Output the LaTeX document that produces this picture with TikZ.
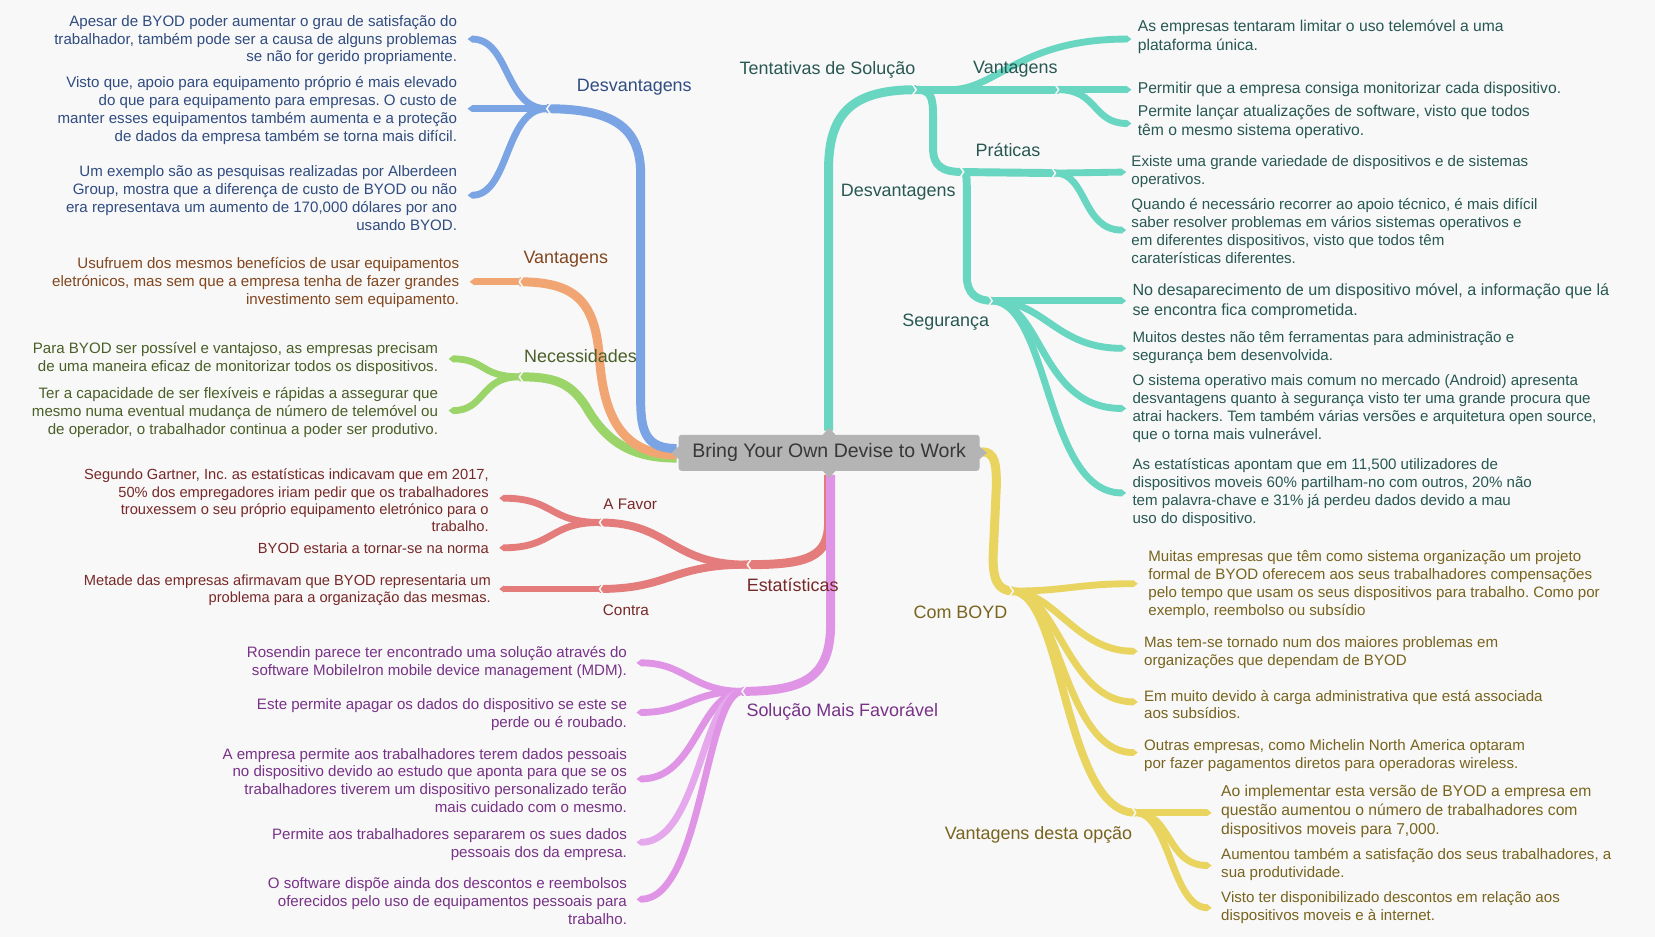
\documentclass[tikz,border=0pt]{standalone}
\usepackage{fontspec}
\setmainfont{Liberation Sans}
\usetikzlibrary{arrows.meta}
\definecolor{bg}{RGB}{248,248,248}
\definecolor{boxgray}{RGB}{180,180,180}
\definecolor{boxtext}{RGB}{55,55,55}
\definecolor{blueC}{RGB}{122,164,228}
\definecolor{orangeC}{RGB}{240,165,115}
\definecolor{greenC}{RGB}{155,212,105}
\definecolor{redC}{RGB}{229,124,124}
\definecolor{purpleC}{RGB}{223,148,230}
\definecolor{purpleL}{RGB}{230,168,236}
\definecolor{tealC}{RGB}{104,214,192}
\definecolor{yellowC}{RGB}{232,212,95}
\definecolor{blueT}{RGB}{48,76,128}
\definecolor{orangeT}{RGB}{130,70,30}
\definecolor{greenT}{RGB}{75,95,40}
\definecolor{redT}{RGB}{120,40,40}
\definecolor{purpleT}{RGB}{120,50,135}
\definecolor{tealT}{RGB}{40,88,82}
\definecolor{yellowT}{RGB}{120,100,30}
\begin{document}
\frenchspacing
\begin{tikzpicture}[x=1pt,y=-1pt,
  every node/.style={inner sep=0pt,outer sep=0pt},
  leaftxt/.style={font=\fontsize{14.3}{17}\selectfont},
  bigleaf/.style={font=\fontsize{14.85}{18}\selectfont},
  hugeleaf/.style={font=\fontsize{15.3}{19}\selectfont},
  smallleaf/.style={font=\fontsize{13.9}{16.2}\selectfont},
  lab/.style={font=\fontsize{17}{20}\selectfont},
  smalllab/.style={font=\fontsize{14.5}{17}\selectfont},
  trunkband/.style={line width=8.5pt},
  midband/.style={line width=7.5pt},
  leafband/.style={line width=6.5pt,-{Triangle[width=6.5pt,length=4.5pt]}},
  notch/.style={draw=bg,line width=1.4pt}
]
\fill[bg] (0,0) rectangle (1568,888);

% ---------- coordinates ----------
\coordinate (rB) at (641,425);
\coordinate (hB) at (518,103);
\coordinate (eB1) at (443,37);
\coordinate (eB2) at (443,103);
\coordinate (eB3) at (443,185);
\coordinate (rO) at (641,431);
\coordinate (hO) at (492,267);
\coordinate (eO) at (445,267);
\coordinate (rG) at (641,434);
\coordinate (hG) at (492,357);
\coordinate (eG1) at (425,340);
\coordinate (eG2) at (425,389);
\coordinate (rD) at (785,450);
\coordinate (hR) at (708,535);
\coordinate (hAF) at (568,495);
\coordinate (hCo) at (568,558);
\coordinate (eR1) at (473,472);
\coordinate (eR2) at (473,519);
\coordinate (eR3) at (473,558);
\coordinate (rP) at (787,450);
\coordinate (hP) at (703,655);
\coordinate (eP1) at (603,628);
\coordinate (eP2) at (603,675);
\coordinate (eP3) at (603,738);
\coordinate (eP4) at (603,798);
\coordinate (eP5) at (603,852);
\coordinate (rT) at (785,408);
\coordinate (hT) at (868,85);
\coordinate (tvS) at (900,85);
\coordinate (hTV) at (1003,85);
\coordinate (hTD) at (913,163);
\coordinate (hTP) at (1000,164);
\coordinate (hTS) at (940,285);
\coordinate (eTV1) at (1072,37);
\coordinate (eTV2) at (1072,85);
\coordinate (eTV3) at (1072,117);
\coordinate (eTP1) at (1067,163);
\coordinate (eTP2) at (1067,218);
\coordinate (eTS1) at (1067,285);
\coordinate (eTS2) at (1067,330);
\coordinate (eTS3) at (1067,387);
\coordinate (eTS4) at (1067,467);
\coordinate (rY) at (930,428);
\coordinate (hY) at (960,560);
\coordinate (hYV) at (1076,770);
\coordinate (eY1) at (1078,553);
\coordinate (eY2) at (1078,617);
\coordinate (eY3) at (1078,665);
\coordinate (eY4) at (1078,713);
\coordinate (eYV1) at (1148,770);
\coordinate (eYV2) at (1148,820);
\coordinate (eYV3) at (1148,860);

% ---------- green ----------
\draw[greenC,trunkband] (rG) .. controls (600,434) and (575,420) .. (555,385) .. controls (540,362) and (525,357) .. (hG);
\draw[greenC,leafband] (hG) .. controls (455,357) and (460,340) .. (eG1);
\draw[greenC,leafband] (hG) .. controls (455,357) and (460,389) .. (eG2);
% ---------- orange ----------
\draw[orangeC,trunkband] (rO) .. controls (590,431) and (572,395) .. (568,340) .. controls (564,285) and (545,267) .. (hO);
\draw[orangeC,leafband] (hO) -- (eO);
% ---------- blue ----------
\draw[blueC,trunkband] (rB) .. controls (613,425) and (607,410) .. (607,380) -- (607,165) .. controls (607,120) and (580,103) .. (hB);
\draw[blueC,leafband] (hB) .. controls (478,103) and (483,37) .. (eB1);
\draw[blueC,leafband] (hB) -- (eB2);
\draw[blueC,leafband] (hB) .. controls (478,103) and (483,185) .. (eB3);
% ---------- red ----------
\draw[redC,trunkband] (rD) -- (785,495) .. controls (785,528) and (765,535) .. (hR);
\draw[redC,midband] (hR) .. controls (635,535) and (635,495) .. (hAF);
\draw[redC,midband] (hR) .. controls (635,535) and (635,558) .. (hCo);
\draw[redC,leafband] (hAF) .. controls (520,495) and (525,472) .. (eR1);
\draw[redC,leafband] (hAF) .. controls (520,495) and (525,519) .. (eR2);
\draw[redC,leafband] (hCo) -- (eR3);
% ---------- purple ----------
\draw[purpleC,trunkband] (rP) -- (787,590) .. controls (787,640) and (765,655) .. (hP);
\draw[purpleC,leafband] (hP) .. controls (655,655) and (650,628) .. (eP1);
\draw[purpleC,leafband] (hP) .. controls (655,655) and (650,675) .. (eP2);
\draw[purpleC,leafband] (hP) .. controls (662,658) and (660,738) .. (eP3);
\draw[purpleL,leafband] (hP) .. controls (665,658) and (662,798) .. (eP4);
\draw[purpleC,leafband] (hP) .. controls (668,658) and (665,852) .. (eP5);
% ---------- teal ----------
\draw[tealC,trunkband] (rT) -- (785,160) .. controls (785,105) and (810,85) .. (hT);
\draw[tealC,midband] (hT) -- (hTV);
\draw[tealC,leafband] (tvS) .. controls (945,85) and (965,37) .. (eTV1);
\draw[tealC,leafband] (hTV) -- (eTV2);
\draw[tealC,leafband] (hTV) .. controls (1040,85) and (1035,117) .. (eTV3);
\draw[tealC,midband] (hT) .. controls (882,85) and (884,92) .. (884,110) -- (884,140) .. controls (884,158) and (893,163) .. (hTD);
\draw[tealC,midband] (hTD) -- (hTP);
\draw[tealC,leafband] (hTP) -- (eTP1);
\draw[tealC,leafband] (hTP) .. controls (1030,164) and (1025,218) .. (eTP2);
\draw[tealC,midband] (hTD) .. controls (916,163) and (916,170) .. (916,185) -- (916,262) .. controls (916,278) and (925,285) .. (hTS);
\draw[tealC,leafband] (hTS) -- (eTS1);
\draw[tealC,leafband] (hTS) .. controls (990,285) and (1000,330) .. (eTS2);
\draw[tealC,leafband] (hTS) .. controls (988,286) and (985,387) .. (eTS3);
\draw[tealC,leafband] (hTS) .. controls (995,288) and (990,467) .. (eTS4);
% ---------- yellow ----------
\draw[yellowC,trunkband] (rY) .. controls (943,428) and (944,440) .. (944,460) -- (941,525) .. controls (940,550) and (946,560) .. (hY);
\draw[yellowC,leafband] (hY) .. controls (1010,560) and (1020,553) .. (eY1);
\draw[yellowC,leafband] (hY) .. controls (1000,562) and (1020,617) .. (eY2);
\draw[yellowC,leafband] (hY) .. controls (1002,563) and (1012,665) .. (eY3);
\draw[yellowC,leafband] (hY) .. controls (1004,563) and (1008,713) .. (eY4);
\draw[yellowC,midband] (hY) .. controls (1008,563) and (1008,770) .. (hYV);
\draw[yellowC,leafband] (hYV) -- (eYV1);
\draw[yellowC,leafband] (hYV) .. controls (1110,770) and (1105,820) .. (eYV2);
\draw[yellowC,leafband] (hYV) .. controls (1108,770) and (1110,860) .. (eYV3);

% ---------- hub notches ----------
\foreach \h in {hB,hO,hG,hR,hAF,hCo,hP}{
  \draw[notch] ([shift={(3.5,-5)}]\h) -- (\h) -- ([shift={(3.5,5)}]\h);
}
\foreach \h in {hT,hTV,hTD,hTP,hTS,hY,hYV}{
  \draw[notch] ([shift={(-3.5,-5)}]\h) -- (\h) -- ([shift={(-3.5,5)}]\h);
}

% ---------- root ----------
\node[fill=boxgray,rounded corners=2.5pt,minimum width=285pt,minimum height=34pt,
      text=boxtext,font=\fontsize{18.5}{21}\selectfont] (root) at (785.5,429) {Bring Your Own Devise to Work};
\fill[boxgray] ([shift={(-6.5,0.5)}]root.north) -- ([shift={(0,-7)}]root.north) -- ([shift={(6.5,0.5)}]root.north) -- cycle;
\fill[boxgray] ([shift={(-6.5,-0.5)}]root.south) -- ([shift={(0,7)}]root.south) -- ([shift={(6.5,-0.5)}]root.south) -- cycle;
\fill[boxgray] ([shift={(0.5,-6.5)}]root.west) -- ([shift={(-7,0)}]root.west) -- ([shift={(0.5,6.5)}]root.west) -- cycle;
\fill[boxgray] ([shift={(-0.5,-6.5)}]root.east) -- ([shift={(7,0)}]root.east) -- ([shift={(-0.5,6.5)}]root.east) -- cycle;

% ---------- labels ----------
\node[lab,text=blueT] (lB) at (601,83) {Desvantagens};
\node[lab,text=orangeT] (lO) at (536,246) {Vantagens};
\node[lab,text=greenT] (lG) at (550,337) {Necessidades};
\node[lab,text=redT] (lR) at (751,554) {Estatísticas};
\node[smalllab,text=redT] (lAF) at (597,478) {A Favor};
\node[smalllab,text=redT] (lCo) at (593,578) {Contra};
\node[lab,text=purpleT] (lP) at (798,674) {Solução Mais Favorável};
\node[lab,text=tealT] (lT) at (784,66) {Tentativas de Solução};
\node[lab,text=tealT] (lTV) at (962,66) {Vantagens};
\node[lab,text=tealT] (lTD) at (851,182) {Desvantagens};
\node[lab,text=tealT] (lTP) at (955,142) {Práticas};
\node[lab,text=tealT] (lTS) at (896,305) {Segurança};
\node[lab,text=yellowT] (lY) at (910,580) {Com BOYD};
\node[lab,text=yellowT] (lYV) at (984,791) {Vantagens desta opção};

% ---------- leaf texts: left side ----------
\begin{scope}[every node/.append style={leaftxt,anchor=east,align=right}]
\node[text=blueT] (tB1) at (433,38) {Apesar de BYOD poder aumentar o grau de satisfação do\\trabalhador, também pode ser a causa de alguns problemas\\se não for gerido propriamente.};
\node[text=blueT] (tB2) at (433,105) {Visto que, apoio para equipamento próprio é mais elevado\\do que para equipamento para empresas. O custo de\\manter esses equipamentos também aumenta e a proteção\\de dados da empresa também se torna mais difícil.};
\node[text=blueT] (tB3) at (433,187.5) {Um exemplo são as pesquisas realizadas por Alberdeen\\Group, mostra que a diferença de custo de BYOD ou não\\era representava um aumento de 170,000 dólares por ano\\usando BYOD.};
\node[text=orangeT] (tO) at (435,268) {Usufruem dos mesmos benefícios de usar equipamentos\\eletrónicos, mas sem que a empresa tenha de fazer grandes\\investimento sem equipamento.};
\node[text=greenT] (tG1) at (415,339.5) {Para BYOD ser possível e vantajoso, as empresas precisam\\de uma maneira eficaz de monitorizar todos os dispositivos.};
\node[text=greenT] (tG2) at (415,391) {Ter a capacidade de ser flexíveis e rápidas a assegurar que\\mesmo numa eventual mudança de número de telemóvel ou\\de operador, o trabalhador continua a poder ser produtivo.};
\node[smallleaf,text=redT] (tR1) at (463,474) {Segundo Gartner, Inc. as estatísticas indicavam que em 2017,\\50\% dos empregadores iriam pedir que os trabalhadores\\trouxessem o seu próprio equipamento eletrónico para o\\trabalho.};
\node[smallleaf,text=redT] (tR2) at (463,519.5) {BYOD estaria a tornar-se na norma};
\node[smallleaf,text=redT] (tR3) at (465,559.5) {Metade das empresas afirmavam que BYOD representaria um\\problema para a organização das mesmas.};
\node[text=purpleT] (tP1) at (594,628) {Rosendin parece ter encontrado uma solução através do\\software MobileIron mobile device management (MDM).};
\node[text=purpleT] (tP2) at (594,677) {Este permite apagar os dados do dispositivo se este se\\perde ou é roubado.};
\node[text=purpleT] (tP3) at (594,739.5) {A empresa permite aos trabalhadores terem dados pessoais\\no dispositivo devido ao estudo que aponta para que se os\\trabalhadores tiverem um dispositivo personalizado terão\\mais cuidado com o mesmo.};
\node[text=purpleT] (tP4) at (594,800) {Permite aos trabalhadores separarem os sues dados\\pessoais dos da empresa.};
\node[text=purpleT] (tP5) at (594,853.5) {O software dispõe ainda dos descontos e reembolsos\\oferecidos pelo uso de equipamentos pessoais para\\trabalho.};
\end{scope}

% ---------- leaf texts: right side ----------
\begin{scope}[every node/.append style={leaftxt,anchor=west,align=left}]
\node[bigleaf,text=tealT] (tTV1) at (1078,35) {As empresas tentaram limitar o uso telemóvel a uma\\plataforma única.};
\node[bigleaf,text=tealT] (tTV2) at (1078,85) {Permitir que a empresa consiga monitorizar cada dispositivo.};
\node[bigleaf,text=tealT] (tTV3) at (1078,115.5) {Permite lançar atualizações de software, visto que todos\\têm o mesmo sistema operativo.};
\node[text=tealT] (tTP1) at (1072,162.5) {Existe uma grande variedade de dispositivos e de sistemas\\operativos.};
\node[text=tealT] (tTP2) at (1072,218.5) {Quando é necessário recorrer ao apoio técnico, é mais difícil\\saber resolver problemas em vários sistemas operativos e\\em diferentes dispositivos, visto que todos têm\\caraterísticas diferentes.};
\node[hugeleaf,text=tealT] (tTS1) at (1073,285.5) {No desaparecimento de um dispositivo móvel, a informação que lá\\se encontra fica comprometida.};
\node[text=tealT] (tTS2) at (1073,329.5) {Muitos destes não têm ferramentas para administração e\\segurança bem desenvolvida.};
\node[text=tealT] (tTS3) at (1073,387) {O sistema operativo mais comum no mercado (Android) apresenta\\desvantagens quanto à segurança visto ter uma grande procura que\\atrai hackers. Tem também várias versões e arquitetura open source,\\que o torna mais vulnerável.};
\node[text=tealT] (tTS4) at (1073,466.5) {As estatísticas apontam que em 11,500 utilizadores de\\dispositivos moveis 60\% partilham-no com outros, 20\% não\\tem palavra-chave e 31\% já perdeu dados devido a mau\\uso do dispositivo.};
\node[text=yellowT] (tY1) at (1088,554) {Muitas empresas que têm como sistema organização um projeto\\formal de BYOD oferecem aos seus trabalhadores compensações\\pelo tempo que usam os seus dispositivos para trabalho. Como por\\exemplo, reembolso ou subsídio};
\node[text=yellowT] (tY2) at (1084,618.5) {Mas tem-se tornado num dos maiores problemas em\\organizações que dependam de BYOD};
\node[text=yellowT] (tY3) at (1084,667.5) {Em muito devido à carga administrativa que está associada\\aos subsídios.};
\node[text=yellowT] (tY4) at (1084,715.5) {Outras empresas, como Michelin North America optaram\\por fazer pagamentos diretos para operadoras wireless.};
\node[bigleaf,text=yellowT] (tYV1) at (1157,768.5) {Ao implementar esta versão de BYOD a empresa em\\questão aumentou o número de trabalhadores com\\dispositivos moveis para 7,000.};
\node[text=yellowT] (tYV2) at (1157,819.5) {Aumentou também a satisfação dos seus trabalhadores, a\\sua produtividade.};
\node[text=yellowT] (tYV3) at (1157,860) {Visto ter disponibilizado descontos em relação aos\\dispositivos moveis e à internet.};
\end{scope}
\end{tikzpicture}
\end{document}
